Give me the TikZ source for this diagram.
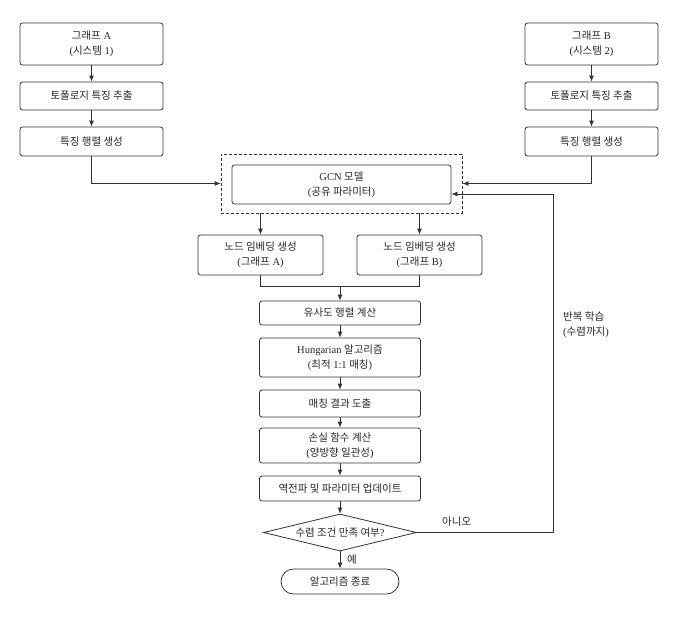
\documentclass[tikz,border=0pt]{standalone}
\usepackage{fontspec}
\setmainfont{Liberation Serif}
\newfontfamily\krf{Noto Sans CJK KR}
\newcommand{\kr}[1]{{\krf #1}}
\usetikzlibrary{arrows.meta,shapes.geometric}
\begin{document}
\begin{tikzpicture}[x=1pt,y=-1pt,
  box/.style={draw=black!80, line width=0.8pt, rounded corners=2.5pt, align=center, inner sep=0pt,
    font=\fontsize{10.5}{15}\selectfont, text=black!85},
  arr/.style={-{Latex[length=6pt,width=5pt]}, line width=0.8pt, draw=black!80},
  ln/.style={line width=0.8pt, draw=black!80},
  lbl/.style={font=\fontsize{10.5}{15}\selectfont, text=black!85, inner sep=0pt, align=left}]
\useasboundingbox (0,0) rectangle (679,616);
% left column
\node[box, minimum width=143, minimum height=42] (gA) at (91.5,44) {\kr{그래프} A\\(\kr{시스템} 1)};
\node[box, minimum width=143, minimum height=28] (tA) at (91.5,96) {\kr{토폴로지 특징 추출}};
\node[box, minimum width=143, minimum height=29] (fA) at (91.5,141.5) {\kr{특징 행렬 생성}};
% right column
\node[box, minimum width=133, minimum height=42] (gB) at (591.5,44) {\kr{그래프} B\\(\kr{시스템} 2)};
\node[box, minimum width=133, minimum height=28] (tB) at (591.5,96) {\kr{토폴로지 특징 추출}};
\node[box, minimum width=133, minimum height=29] (fB) at (591.5,141.5) {\kr{특징 행렬 생성}};
% GCN
\node[draw=black!80, line width=0.8pt, dash pattern=on 3pt off 2pt, minimum width=241, minimum height=59, inner sep=0pt] (dash) at (341.5,183.5) {};
\node[box, minimum width=219, minimum height=39] (gcn) at (341.5,184.5) {GCN \kr{모델}\\(\kr{공유 파라미터})};
% embeddings
\node[box, minimum width=125, minimum height=40] (eA) at (260.5,255) {\kr{노드 임베딩 생성}\\(\kr{그래프} A)};
\node[box, minimum width=125, minimum height=40] (eB) at (419.5,255) {\kr{노드 임베딩 생성}\\(\kr{그래프} B)};
% main column
\node[box, minimum width=161, minimum height=24] (sim) at (340,313) {\kr{유사도 행렬 계산}};
\node[box, minimum width=161, minimum height=39] (hung) at (340,357.5) {Hungarian \kr{알고리즘}\\(\kr{최적} 1:1 \kr{매칭})};
\node[box, minimum width=161, minimum height=27] (mres) at (340,403.5) {\kr{매칭 결과 도출}};
\node[box, minimum width=161, minimum height=35] (loss) at (340,445.5) {\kr{손실 함수 계산}\\(\kr{양방향 일관성})};
\node[box, minimum width=161, minimum height=25] (bp) at (340,488.5) {\kr{역전파 및 파라미터 업데이트}};
\node[box, shape=diamond, rounded corners=0pt, shape aspect=4.1, minimum width=153, minimum height=37] (dia) at (340,532.5) {\kr{수렴 조건 만족 여부}?};
\node[box, rounded corners=12.5pt, minimum width=118, minimum height=25] (endn) at (340,581.5) {\kr{알고리즘 종료}};
% labels
\node[lbl, anchor=west] (yes) at (347,560) {\kr{예}};
\node[lbl, anchor=west] (no) at (442,522) {\kr{아니오}};
\node[lbl, anchor=west] (rep) at (563,325) {\kr{반복 학습}\\(\kr{수렴까지})};
% connectors
\draw[arr] (gA) -- (tA);
\draw[arr] (tA) -- (fA);
\draw[arr] (gB) -- (tB);
\draw[arr] (tB) -- (fB);
\draw[arr] (fA.south) |- (dash.west);
\draw[arr] (fB.south) |- (dash.east);
\draw[arr] (dash.south -| eA) -- (eA.north);
\draw[arr] (dash.south -| eB) -- (eB.north);
\coordinate (j) at (340,286);
\draw[ln] (eA.south) -- (eA.south |- j) -- (eB.south |- j) -- (eB.south);
\draw[arr] (j) -- (sim.north);
\draw[arr] (sim) -- (hung);
\draw[arr] (hung) -- (mres);
\draw[arr] (mres) -- (loss);
\draw[arr] (loss) -- (bp);
\draw[arr] (bp) -- (dia);
\draw[arr] (dia) -- (endn);
\coordinate (fbt) at (553,194);
\draw[arr] (dia.east) -| (fbt) -- (gcn.east |- fbt);
\end{tikzpicture}
\end{document}
